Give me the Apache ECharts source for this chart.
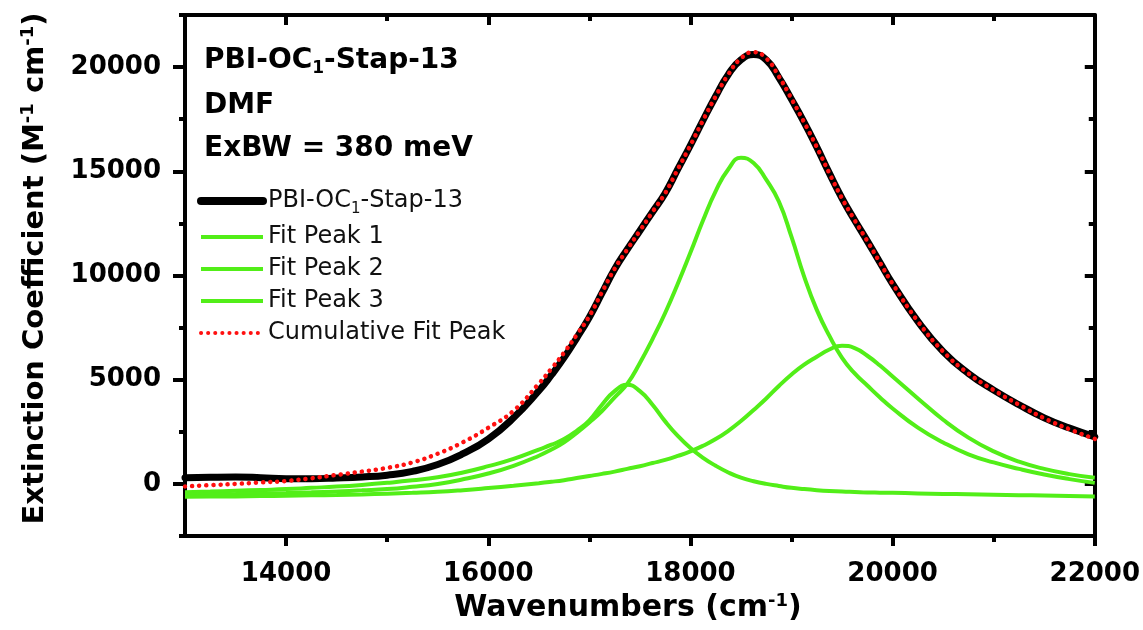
<!DOCTYPE html>
<html>
<head>
<meta charset="utf-8">
<script src="https://cdn.jsdelivr.net/npm/echarts@6/dist/echarts.min.js"></script>
<style>
  html, body { margin: 0; padding: 0; background: #fff; }
  #chart { width: 1143px; height: 630px; }
</style>
</head>
<body>
<div id="chart"></div>
<script>
// wavenumber grid (cm-1): every 250, every 125 across the band
const wavenumbers = [13000, 13250, 13500, 13750, 14000, 14250, 14500, 14750, 15000, 15250,
  15500, 15750, 16000, 16250, 16500, 16625, 16750, 16875,
  17000, 17125, 17250, 17375, 17500, 17625, 17750, 17875, 18000, 18125,
  18250, 18375, 18500, 18625, 18750, 18875, 19000, 19125, 19250, 19375,
  19500, 19625, 19750, 19875,
  20000, 20250, 20500, 20750, 21000, 21250, 21500, 21750, 22000];

const measured = [300, 320, 330, 300, 250, 250, 280, 330, 420, 600,
  930, 1450, 2150, 3170, 4470, 5230, 6060, 7000,
  8000, 9150, 10300, 11250, 12150, 13050, 13950, 15100, 16250, 17450,
  18600, 19650, 20350, 20600, 20350, 19500, 18450, 17350, 16160, 14900,
  13700, 12650, 11650, 10620,
  9600, 7800, 6350, 5300, 4500, 3800, 3170, 2680, 2260];

const fitPeak1 = [-400, -370, -330, -290, -250, -190, -130, -50, 50, 170,
  320, 550, 850, 1200, 1650, 1880, 2150, 2550,
  3050, 3800, 4450, 4760, 4450, 3800, 3000, 2300, 1720, 1250,
  870, 550, 300, 130, 0, -100, -190, -250, -300, -340,
  -370, -390, -410, -420,
  -430, -455, -480, -500, -520, -540, -560, -580, -600];

const fitPeak2 = [-520, -505, -490, -465, -440, -405, -360, -310, -250, -140,
  0, 220, 500, 870, 1350, 1650, 2000, 2450,
  2950, 3500, 4150, 4800, 5800, 6950, 8200, 9600, 11100, 12650,
  14050, 15100, 15650, 15400, 14600, 13550, 11850, 9950, 8350, 7100,
  6050, 5300, 4720, 4150,
  3620, 2700, 1990, 1420, 1030, 720, 450, 230, 50];

const fitPeak3 = [-620, -610, -600, -585, -570, -550, -530, -505, -470, -430,
  -380, -300, -200, -90, 30, 100, 180, 280,
  380, 480, 590, 720, 850, 1000, 1150, 1340, 1560, 1830,
  2150, 2550, 3020, 3550, 4100, 4700, 5250, 5720, 6100, 6450,
  6630, 6520, 6150, 5680,
  5150, 4100, 3080, 2220, 1560, 1070, 720, 470, 290];

const cumulative = [-120, -60, 0, 70, 140, 270, 430, 590, 770, 1030,
  1450, 2000, 2690, 3510, 4810, 5530, 6300, 7150,
  8050, 9200, 10320, 11250, 12150, 13050, 13950, 15100, 16250, 17450,
  18600, 19650, 20420, 20720, 20420, 19550, 18480, 17350, 16160, 14900,
  13700, 12650, 11650, 10620,
  9600, 7800, 6350, 5300, 4500, 3800, 3150, 2620, 2160];

const xMajorTicks = [14000, 16000, 18000, 20000, 22000];
const xMinorTicks = [15000, 17000, 19000, 21000];
const yMajorTicks = [0, 5000, 10000, 15000, 20000];
const yMinorTicks = [-2500, 2500, 7500, 12500, 17500, 22500];

const FONT = 'DejaVu Sans';
const GREEN = '#52ee18';
const RED = '#ff1010';

const pairs = (ys) => wavenumbers.map((x, i) => [x, ys[i]]);

const chart = echarts.init(document.getElementById('chart'));

// one axis per tick set: bottom/left carry labels, top/right are mirrored inside ticks
function xAxisDef(position, ticks, len, inside, showLine, labels) {
  return {
    type: 'value', position, min: 13000, max: 22000,
    splitLine: { show: false },
    axisLine: { show: showLine, onZero: false, lineStyle: { color: '#000', width: 4 } },
    axisTick: { show: true, inside, length: len, customValues: ticks, lineStyle: { color: '#000', width: 4 } },
    axisLabel: labels ? {
      show: true, customValues: ticks, margin: 25, formatter: (v) => String(v),
      fontFamily: FONT, fontWeight: 'bold', fontSize: 26, color: '#000'
    } : { show: false }
  };
}

function yAxisDef(position, ticks, len, inside, showLine, labels) {
  return {
    type: 'value', position, min: -2500, max: 22500,
    splitLine: { show: false },
    axisLine: { show: showLine, onZero: false, lineStyle: { color: '#000', width: 4 } },
    axisTick: { show: true, inside, length: len, customValues: ticks, lineStyle: { color: '#000', width: 4 } },
    axisLabel: labels ? {
      show: true, customValues: ticks, margin: 24, formatter: (v) => String(v),
      fontFamily: FONT, fontWeight: 'bold', fontSize: 26, color: '#000'
    } : { show: false }
  };
}

const xMain = xAxisDef('bottom', xMajorTicks, 10, false, true, true);
xMain.name = '{t|Wavenumbers (cm}{s|-1}{t|)}';
xMain.nameLocation = 'middle';
xMain.nameGap = 56;
xMain.nameTextStyle = {
  padding: [0, 24, 0, 0],
  rich: {
    t: { fontFamily: FONT, fontWeight: 'bold', fontSize: 30, color: '#000', lineHeight: 32 },
    s: { fontFamily: FONT, fontWeight: 'bold', fontSize: 18, color: '#000', verticalAlign: 'top', lineHeight: 32 }
  }
};

const yMain = yAxisDef('left', yMajorTicks, 12, false, true, true);
yMain.name = '{t|Extinction Coefficient (M}{s|-1}{t| cm}{s|-1}{t|)}';
yMain.nameLocation = 'middle';
yMain.nameGap = 134;
yMain.nameTextStyle = {
  padding: [0, 0, 0, 14],
  rich: {
    t: { fontFamily: FONT, fontWeight: 'bold', fontSize: 29, color: '#000', lineHeight: 32 },
    s: { fontFamily: FONT, fontWeight: 'bold', fontSize: 18, color: '#000', verticalAlign: 'top', lineHeight: 32 }
  }
};

const legendNames = ['PBI-OC1-Stap-13', 'Fit Peak 1', 'Fit Peak 2', 'Fit Peak 3', 'Cumulative Fit Peak'];
const legendLines = [
  { color: '#000', width: 8, cap: 'round' },
  { color: GREEN, width: 4 },
  { color: GREEN, width: 4 },
  { color: GREEN, width: 4 },
  { color: RED, width: 4, type: [0.1, 7], cap: 'round' }
];

const option = {
  animation: false,
  backgroundColor: '#fff',
  grid: { left: 185, right: 48, top: 15, bottom: 94 },
  xAxis: [
    xMain,
    xAxisDef('bottom', xMinorTicks, 6, false, false, false),
    xAxisDef('top', xMajorTicks, 10, true, true, false),
    xAxisDef('top', xMinorTicks, 6, true, false, false)
  ],
  yAxis: [
    yMain,
    yAxisDef('left', yMinorTicks, 6, false, false, false),
    yAxisDef('right', yMajorTicks, 10, true, true, false),
    yAxisDef('right', yMinorTicks, 6, true, false, false)
  ],
  legend: {
    orient: 'vertical',
    left: 192, top: 184,
    itemWidth: 62, itemHeight: 14, itemGap: 8,
    itemStyle: { opacity: 0 },
    textStyle: {
      fontFamily: FONT, fontSize: 24, color: '#111',
      rich: {
        n: { fontFamily: FONT, fontSize: 24, color: '#111', lineHeight: 26 },
        f: { fontFamily: FONT, fontSize: 24, color: '#111', lineHeight: 32 },
        s: { fontFamily: FONT, fontSize: 15, color: '#111', verticalAlign: 'bottom', lineHeight: 32 }
      }
    },
    formatter: (name) => name === 'PBI-OC1-Stap-13'
      ? '{f|PBI-OC}{s|1}{f|-Stap-13}' : '{n|' + name + '}',
    data: legendNames.map((name, i) => ({ name, lineStyle: legendLines[i] }))
  },
  graphic: [
    {
      type: 'text', left: 204, top: 47,
      style: {
        text: '{a|PBI-OC}{s|1}{a|-Stap-13}',
        rich: {
          a: { fontFamily: FONT, fontWeight: 'bold', fontSize: 28, fill: '#000', lineHeight: 33 },
          s: { fontFamily: FONT, fontWeight: 'bold', fontSize: 17, fill: '#000', verticalAlign: 'bottom', lineHeight: 33 }
        }
      }
    },
    {
      type: 'text', left: 204, top: 92,
      style: { text: 'DMF', fontFamily: FONT, fontWeight: 'bold', fontSize: 28, fill: '#000' }
    },
    {
      type: 'text', left: 204, top: 135,
      style: { text: 'ExBW = 380 meV', fontFamily: FONT, fontWeight: 'bold', fontSize: 28, fill: '#000' }
    }
  ],
  series: [
    {
      name: 'PBI-OC1-Stap-13', type: 'line', data: pairs(measured),
      smooth: 0.5, showSymbol: false, symbol: 'none', z: 2,
      lineStyle: { color: '#000', width: 7, cap: 'round' }, itemStyle: { color: '#000' }
    },
    {
      name: 'Fit Peak 1', type: 'line', data: pairs(fitPeak1),
      smooth: 0.5, showSymbol: false, symbol: 'none', z: 3,
      lineStyle: { color: GREEN, width: 4 }, itemStyle: { color: GREEN }
    },
    {
      name: 'Fit Peak 2', type: 'line', data: pairs(fitPeak2),
      smooth: 0.5, showSymbol: false, symbol: 'none', z: 3,
      lineStyle: { color: GREEN, width: 4 }, itemStyle: { color: GREEN }
    },
    {
      name: 'Fit Peak 3', type: 'line', data: pairs(fitPeak3),
      smooth: 0.5, showSymbol: false, symbol: 'none', z: 3,
      lineStyle: { color: GREEN, width: 4 }, itemStyle: { color: GREEN }
    },
    {
      name: 'Cumulative Fit Peak', type: 'line', data: pairs(cumulative),
      smooth: 0.5, showSymbol: false, symbol: 'none', z: 4,
      lineStyle: { color: RED, width: 4.5, type: [0.1, 7], cap: 'round' },
      itemStyle: { color: RED }
    }
  ]
};

chart.setOption(option);
</script>
</body>
</html>
